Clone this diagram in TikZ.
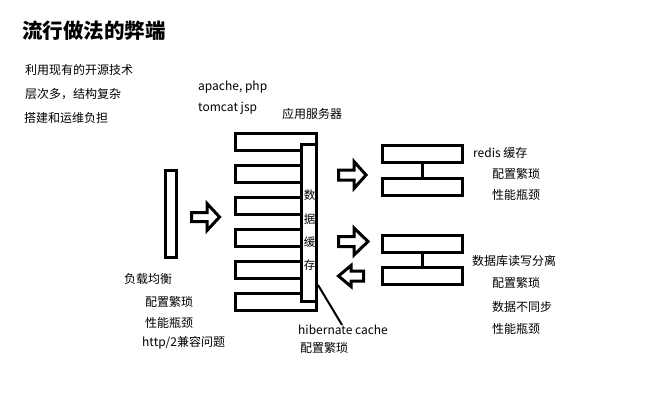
\documentclass[tikz,border=0pt]{standalone}
\usepackage{fontspec}
\setmainfont{Noto Sans CJK SC}
\begin{document}
\begin{tikzpicture}[x=1pt,y=-1pt,
  box/.style={draw=black,line width=3pt,fill=white,inner sep=0pt},
  lbl/.style={anchor=west,inner sep=0pt,font=\fontsize{12pt}{14pt}\selectfont},
  vch/.style={inner sep=0pt,font=\fontsize{11.5pt}{14pt}\selectfont},
  blk/.style={draw=black,line width=3pt,line join=miter,fill=white}]
\useasboundingbox (0,0) rectangle (652,408);
\fill[white] (0,0) rectangle (652,408);
% right block arrow: xl, xh, xt, yc, s, h
\newcommand\rarr[6]{\draw[blk] (#1,#4-#5) -- (#2,#4-#5) -- (#2,#4-#6) -- (#3,#4) -- (#2,#4+#6) -- (#2,#4+#5) -- (#1,#4+#5) -- cycle;}
% left block arrow: xt(tip), xh, xr, yc, s, h
\newcommand\larr[6]{\draw[blk] (#3,#4-#5) -- (#2,#4-#5) -- (#2,#4-#6) -- (#1,#4) -- (#2,#4+#6) -- (#2,#4+#5) -- (#3,#4+#5) -- cycle;}

% title and notes
\node[anchor=west,inner sep=0pt,font=\fontsize{20.5pt}{24pt}\selectfont\bfseries] (title) at (22,31) {流行做法的弊端};
\node[lbl] (n1) at (25,70) {利用现有的开源技术};
\node[lbl] (n2) at (25,94) {层次多，结构复杂};
\node[lbl] (n3) at (24,118) {搭建和运维负担};
\node[lbl] (t1) at (198,87) {apache, php};
\node[lbl] (t2) at (198,108) {tomcat jsp};
\node[lbl] (appl) at (282,114) {应用服务器};

% load balancer
\node[box,minimum width=11pt,minimum height=87pt] (lb) at (171,214) {};
\node[lbl] (lb1) at (124,279) {负载均衡};
\node[lbl] (lb2) at (145,302) {配置繁琐};
\node[lbl] (lb3) at (145,323) {性能瓶颈};
\node[lbl] (lb4) at (142,343) {http/2兼容问题};

\rarr{191.5}{207}{219.5}{217}{4.5}{13.5}

% app servers
\foreach \i/\yy in {1/142,2/174,3/206,4/238,5/270,6/302}
  \node[box,minimum width=81pt,minimum height=17pt] (app\i) at (276,\yy) {};
\node[box,minimum width=15pt,minimum height=157pt] (cache) at (309,223) {};
\node[vch] (c1) at (309.5,195) {数};
\node[vch] (c2) at (309.5,219) {据};
\node[vch] (c3) at (309.5,242) {缓};
\node[vch] (c4) at (309.5,265) {存};

\node[lbl] (hib) at (298,330) {hibernate cache};
\node[lbl] (hib2) at (300,348) {配置繁琐};
\draw[line width=2pt] ([yshift=18pt]cache.south east) -- ([xshift=-1pt]hib.north);

% arrows to right side
\rarr{338.5}{354}{366}{175}{5}{13.5}
\rarr{338.5}{354}{368}{241.5}{5}{13.5}
\larr{338.5}{351}{363.5}{276}{5}{10.5}

% redis
\node[box,minimum width=80pt,minimum height=17pt] (r1) at (422.5,154) {};
\node[box,minimum width=80pt,minimum height=17pt] (r2) at (422.5,186.5) {};
\draw[line width=3pt] (r1.south) -- (r2.north);
\node[lbl] (rl1) at (473,153) {redis 缓存};
\node[lbl] (rl2) at (492,174) {配置繁琐};
\node[lbl] (rl3) at (492,195) {性能瓶颈};

% database
\node[box,minimum width=80pt,minimum height=17pt] (d1) at (422.5,244) {};
\node[box,minimum width=80pt,minimum height=17pt] (d2) at (422.5,276) {};
\draw[line width=3pt] (d1.south) -- (d2.north);
\node[lbl] (dl1) at (472,261) {数据库读写分离};
\node[lbl] (dl2) at (492,283) {配置繁琐};
\node[lbl] (dl3) at (492,307) {数据不同步};
\node[lbl] (dl4) at (492,329) {性能瓶颈};
\end{tikzpicture}
\end{document}
